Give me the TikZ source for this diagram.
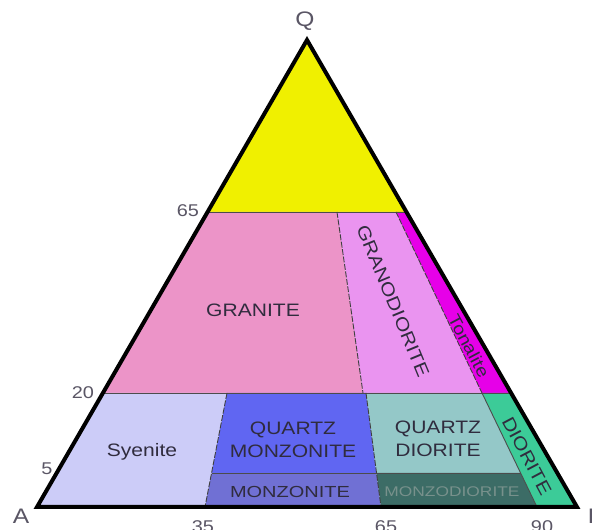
\documentclass[tikz,border=0pt]{standalone}
\usepackage{fontspec}
\usepackage{graphicx}
\setmainfont{Liberation Sans}
\newcommand\sx[1]{\scalebox{1.17}[1]{#1}}
\definecolor{cyel}{RGB}{240,240,0}
\definecolor{cgran}{RGB}{236,148,200}
\definecolor{cgrd}{RGB}{234,148,240}
\definecolor{cton}{RGB}{230,0,232}
\definecolor{csye}{RGB}{204,204,248}
\definecolor{cqm}{RGB}{96,102,242}
\definecolor{cmon}{RGB}{112,112,212}
\definecolor{cqd}{RGB}{148,200,200}
\definecolor{cmzd}{RGB}{60,108,102}
\definecolor{cdio}{RGB}{60,203,152}
\definecolor{ctxt}{RGB}{48,44,62}
\definecolor{cmzt}{RGB}{120,145,140}
\tikzset{
  region/.style={draw=none},
  bound/.style={draw=black!70, line width=0.9pt},
  divider/.style={draw=black!75, line width=0.9pt, dash pattern=on 6pt off 1.5pt},
  outline/.style={draw=black, line width=4pt, line join=miter},
  lbl/.style={text=ctxt, inner sep=0pt, font=\fontsize{18}{23}\selectfont, align=center},
  tick/.style={text=ctxt!80, inner sep=0pt, font=\fontsize{17}{20}\selectfont},
  corner/.style={text=ctxt!80, inner sep=0pt, font=\fontsize{21}{24}\selectfont}
}
\begin{document}
\begin{tikzpicture}[x=1pt,y=1pt]
\useasboundingbox (0,0) rectangle (592,530);
\fill[white] (0,0) rectangle (592,530);
% vertices
\coordinate (Q) at (307,490);
\coordinate (A) at (37,23);
\coordinate (P) at (577,23);
\coordinate (L65) at (207.6,318);
\coordinate (R65) at (406.4,318);
\coordinate (G1) at (337,318);
\coordinate (T1) at (396,318);
\coordinate (L20) at (102.9,137);
\coordinate (R20) at (511.1,137);
\coordinate (G2) at (363,137);
\coordinate (T2) at (482,137);
\coordinate (S1) at (227,137);
\coordinate (M1) at (366,137);
\coordinate (S2) at (211.6,57);
\coordinate (M2) at (376.5,57);
\coordinate (D2) at (520.6,57);
\coordinate (S3) at (205,23);
\coordinate (M3) at (381,23);
\coordinate (D3) at (537,23);
% regions
\fill[cyel] (Q) -- (L65) -- (R65) -- cycle;
\fill[cgran] (L65) -- (G1) -- (G2) -- (L20) -- cycle;
\fill[cgrd] (G1) -- (T1) -- (T2) -- (G2) -- cycle;
\fill[cton] (T1) -- (R65) -- (R20) -- (T2) -- cycle;
\fill[csye] (L20) -- (S1) -- (S3) -- (A) -- cycle;
\fill[cqm] (S1) -- (M1) -- (M2) -- (S2) -- cycle;
\fill[cmon] (S2) -- (M2) -- (M3) -- (S3) -- cycle;
\fill[cqd] (M1) -- (T2) -- (D2) -- (M2) -- cycle;
\fill[cmzd] (M2) -- (D2) -- (D3) -- (M3) -- cycle;
\fill[cdio] (T2) -- (R20) -- (P) -- (D3) -- cycle;
% boundaries
\draw[bound] (L65) -- (R65);
\draw[bound] (L20) -- (R20);
\draw[bound] (S2) -- (D2);
\draw[divider] (G1) -- (G2);
\draw[divider] (T1) -- (T2);
\draw[divider] (S1) -- (S3);
\draw[divider] (M1) -- (M3);
\draw[bound] (T2) -- (D3);
\draw[outline] (A) -- (Q) -- (P) -- cycle;
% region labels
\node[lbl] (granite) at (253,220) {\sx{GRANITE}};
\node[lbl, rotate=-67.5] (grano) at (393,229) {\sx{GRANODIORITE}};
\node[lbl, rotate=-62, font=\fontsize{17}{20}\selectfont] (tona) at (469,184) {\sx{Tonalite}};
\node[lbl] (qmon) at (293,90) {\sx{QUARTZ}\\\sx{MONZONITE}};
\node[lbl] (qdio) at (438,91) {\sx{QUARTZ}\\\sx{DIORITE}};
\node[lbl] (sye) at (142,78) {\sx{Syenite}};
\node[lbl, font=\fontsize{16}{19}\selectfont] (mon) at (290,38) {\scalebox{1.25}[1]{MONZONITE}};
\node[lbl, text=cmzt, font=\fontsize{14}{17}\selectfont] (mzd) at (452,38) {\scalebox{1.24}[1]{MONZODIORITE}};
\node[lbl, rotate=-62] (dio) at (527,74) {\sx{DIORITE}};
% axis labels
\node[corner] (lq) at (305,509) {\sx{Q}};
\node[corner] (la) at (21,14) {\sx{A}};
\node[corner] (lp) at (596,14) {\sx{P}};
\node[tick] (t65) at (188,319) {\sx{65}};
\node[tick] (t20) at (83,137) {\sx{20}};
\node[tick] (t5) at (47,61) {\sx{5}};
\node[tick] (b35) at (203,3) {\sx{35}};
\node[tick] (b65) at (386,3) {\sx{65}};
\node[tick] (b90) at (542,3) {\sx{90}};
\end{tikzpicture}
\end{document}
